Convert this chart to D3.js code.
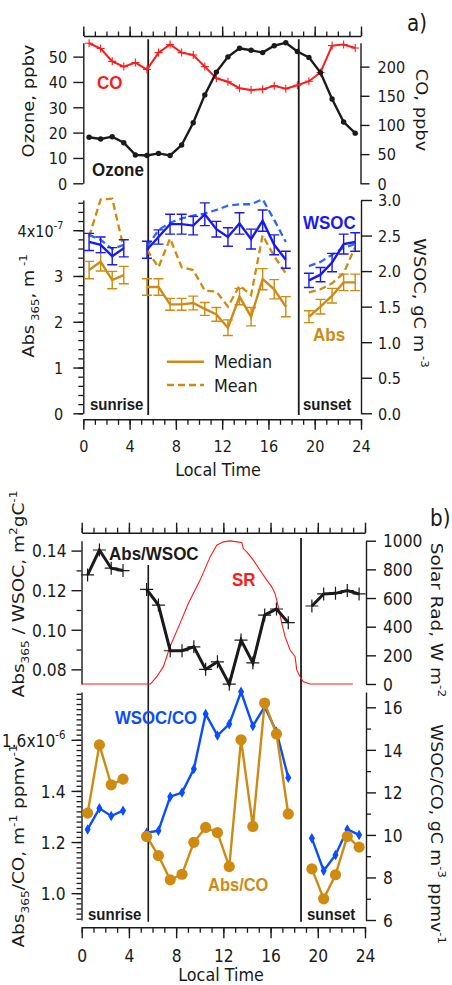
<!DOCTYPE html>
<html>
<head>
<meta charset="utf-8">
<script src="https://cdn.jsdelivr.net/npm/d3@7/dist/d3.min.js"></script>
<style>
body { margin:0; background:#fff; }
svg { display:block; }
</style>
</head>
<body>
<svg id="chart" width="452" height="985"></svg>
<script>
// ---------------- data ----------------
const hours = [0.5,1.5,2.5,3.5,4.5,5.5,6.5,7.5,8.5,9.5,10.5,11.5,12.5,13.5,14.5,15.5,16.5,17.5,18.5,19.5,20.5,21.5,22.5,23.5];
const ozone = [18.2,17.5,18.4,16.0,11.2,11.0,11.8,11.0,15.1,23.9,34.9,43.9,49.9,53.3,52.5,51.6,54.3,55.5,52.0,49.7,43.7,33.3,24.2,19.8];
const co = [240,231,209,200,207,195,224,238,224,220,200,180,174,163,160,161,167,162,168,175,190,236,238,232];

const absMedian = [3.13,3.31,2.91,3.02,null,2.76,2.76,2.38,2.38,2.41,2.28,2.16,1.87,2.55,2.11,2.93,2.71,2.33,null,2.11,2.33,2.57,2.86,2.86];
const absErr    = [0.19,0.20,0.19,0.19,null,0.18,0.18,0.13,0.13,0.15,0.14,0.15,0.17,0.18,0.20,0.23,0.21,0.22,null,0.13,0.16,0.16,0.18,0.18];
const absMean   = [3.86,4.67,4.69,3.60,null,3.57,3.19,3.82,3.19,3.13,2.68,2.66,2.33,2.79,2.58,3.89,3.43,3.06,null,2.64,2.71,2.84,3.06,3.64];
const wsocMedian = [2.41,2.37,2.21,2.32,null,2.30,2.48,2.66,2.66,2.64,2.80,2.59,2.48,2.67,2.45,2.71,2.37,2.16,null,1.87,1.95,2.12,2.38,2.41];
const wsocErr    = [0.12,0.11,0.12,0.12,null,0.12,0.10,0.14,0.14,0.13,0.16,0.11,0.13,0.15,0.14,0.15,0.14,0.12,null,0.10,0.10,0.13,0.14,0.13];
const wsocMean   = [2.51,2.44,2.31,2.37,null,2.34,2.58,2.68,2.74,2.78,2.81,2.86,2.92,2.94,2.94,3.01,2.72,2.41,null,2.07,2.13,2.23,2.33,2.38];

const absWsoc = [0.1277,0.1403,0.1311,0.1299,null,0.1204,0.1125,0.0894,0.0894,0.0914,0.0800,0.0838,0.0725,0.0948,0.0833,0.1074,0.1105,0.1036,null,0.1120,0.1181,0.1184,0.1198,0.1181];
const srHours  = [0,5.8,5.93,6.36,6.92,7.48,8.33,9.03,10.03,10.88,11.44,12.0,12.57,13.14,13.56,13.69,13.98,14.54,15.11,15.68,16.1,16.38,16.66,16.95,17.23,17.65,18.08,18.22,18.5,18.78,19.35,22.97];
const srValues = [0,0,9,51,121,260,423,562,725,887,969,992,999,992,987,945,922,864,794,725,678,632,539,423,330,237,190,98,51,16,0,0];

const wsocCo = [10.26,11.25,10.89,11.14,null,10.10,10.20,11.80,11.99,13.10,15.69,14.67,15.21,16.73,15.12,16.03,14.85,12.69,null,9.84,8.32,9.06,10.26,10.00];
const absCo  = [1.313,1.580,1.424,1.446,null,1.222,1.147,1.052,1.074,1.199,1.257,1.237,1.104,1.600,1.261,1.744,1.623,1.310,null,1.095,0.978,1.072,1.222,1.180];

const xTicks = [0,4,8,12,16,20,24];
const sunA = [5.61, 18.62];
const sunB = [5.64, 18.58];

// ---------------- style ----------------
const FONT = "'DejaVu Sans', Verdana, sans-serif";
const BOLD = "'Liberation Sans', Arial, sans-serif";
const INK = "#1a1a1a";
const RED = "#ff1a1a";
const BLUE = "#1a1aee";
const BLUE2 = "#2a66ff";
const BLUEB = "#0a4cff";
const GOLD = "#cf8a12";
const S = 1.12; // vertical text stretch of the original figure

const svg = d3.select("#chart");

function rich(x, y, parts, o) {
  const tr = `translate(${x},${y}) scale(1,${S})` + (o.rotate ? ` rotate(${o.rotate})` : "");
  const t = svg.append("text").attr("transform", tr)
    .attr("font-family", o.family || FONT).attr("font-size", o.size)
    .attr("font-weight", o.weight || "normal").attr("fill", o.fill || INK)
    .attr("text-anchor", o.anchor || "start");
  if (typeof parts === "string") parts = [[parts, "n"]];
  let shift = 0;
  parts.forEach(([s, k]) => {
    const target = k === "sub" ? o.size * 0.3 : k === "sup" ? -o.size * 0.45 : 0;
    const ts = t.append("tspan").attr("dy", target - shift).text(s);
    if (k !== "n") ts.attr("font-size", o.size * 0.66);
    shift = target;
  });
  return t;
}

function styleAxis(g, fs) {
  g.attr("font-family", FONT).attr("font-size", fs).attr("fill", null);
  g.selectAll("path.domain").attr("stroke", INK).attr("stroke-width", 1.4);
  g.selectAll(".tick line").attr("stroke", INK).attr("stroke-width", 1.4);
  g.selectAll(".tick text").attr("fill", INK);
  return g;
}
function vAxis(gen, x, fs) {
  const g = svg.append("g").attr("transform", `translate(${x},0)`).call(gen);
  styleAxis(g, fs);
  g.selectAll(".tick text").attr("y", 0).attr("dy", "0.36em").attr("transform", `scale(1,${S})`);
  return g;
}
function hAxis(gen, y, fs, base) {
  const g = svg.append("g").attr("transform", `translate(0,${y})`).call(gen);
  styleAxis(g, fs);
  g.selectAll(".tick text").attr("y", base / S).attr("dy", 0).attr("transform", `scale(1,${S})`);
  return g;
}
function minor(gen, pos, horizontal) {
  const g = svg.append("g").attr("transform", horizontal ? `translate(0,${pos})` : `translate(${pos},0)`).call(gen);
  g.select("path.domain").remove();
  g.selectAll(".tick line").attr("stroke", INK).attr("stroke-width", 1.3);
  g.selectAll(".tick text").remove();
  return g;
}
function supLabel(g, value, main, sup, fs) {
  g.selectAll(".tick text").filter(d => Math.abs(d - value) < 1e-9).each(function () {
    const t = d3.select(this).text(main);
    t.append("tspan").attr("dy", -fs * 0.45).attr("font-size", fs * 0.66).text(sup);
  });
}
function pts(vals) { return hours.map((h, i) => ({ h, v: vals[i], i })).filter(d => d.v != null); }
function lineOf(x, y, vals) {
  return d3.line().defined(d => d.v != null).x(d => x(d.h)).y(d => y(d.v))(hours.map((h, i) => ({ h, v: vals[i] })));
}
const plus = s => `M${-s},0H${s}M0,${-s}V${s}`;
const fmtInt = d3.format("d");

// ================= PANEL A =================
const xA = d3.scaleLinear().domain([0, 24]).range([83.3, 361]);
const yOz = d3.scaleLinear().domain([0, 55.5]).range([183.3, 42.7]);
const yCO = d3.scaleLinear().domain([0, 241]).range([183.3, 42.7]);
const yAbs = d3.scaleLinear().domain([0, 4.66]).range([413.3, 200]);
const yWS = d3.scaleLinear().domain([0, 3]).range([413.3, 200]);

// top tick axis
hAxis(d3.axisTop(xA).tickValues(xTicks).tickSize(9.5).tickSizeOuter(0).tickFormat(""), 36, 14, 0);
minor(d3.axisTop(xA).tickValues(d3.range(0, 25, 1)).tickSize(4.5), 36, true);
// upper left / right
vAxis(d3.axisLeft(yOz).tickValues([0, 10, 20, 30, 40, 50]).tickFormat(fmtInt).tickSize(10).tickPadding(6).tickSizeOuter(0), 83.3, 14.5);
vAxis(d3.axisRight(yCO).tickValues([0, 50, 100, 150, 200]).tickFormat(fmtInt).tickSize(9).tickPadding(8).tickSizeOuter(0), 360.5, 14.5);
// lower left / right
const gAbs = vAxis(d3.axisLeft(yAbs).tickValues([0, 1, 2, 3, 4]).tickFormat(fmtInt).tickSize(10).tickPadding(10).tickSizeOuter(0), 83.3, 14.5);
supLabel(gAbs, 4, "4x10", "-7", 14.5);
minor(d3.axisLeft(yAbs).tickValues(d3.range(0, 4.65, 0.2)).tickSize(5), 83.3, false);
vAxis(d3.axisRight(yWS).tickValues([0, 0.5, 1, 1.5, 2, 2.5, 3]).tickFormat(d3.format(".1f")).tickSize(11).tickPadding(6).tickSizeOuter(0), 361, 14.5);
// bottom axis
hAxis(d3.axisBottom(xA).tickValues(xTicks).tickFormat(fmtInt).tickSize(10.5).tickSizeOuter(0), 419.3, 14.5, 33);
minor(d3.axisBottom(xA).tickValues(d3.range(0, 25, 1)).tickSize(5.5), 419.3, true);

// sunrise / sunset lines
sunA.forEach(h => svg.append("line").attr("x1", xA(h)).attr("x2", xA(h)).attr("y1", 39.3).attr("y2", 415)
  .attr("stroke", INK).attr("stroke-width", 1.8));

// CO
svg.append("path").attr("d", lineOf(xA, yCO, co)).attr("fill", "none").attr("stroke", RED).attr("stroke-width", 2);
svg.append("g").selectAll("path").data(pts(co)).join("path")
  .attr("transform", d => `translate(${xA(d.h)},${yCO(d.v)})`).attr("d", plus(4))
  .attr("stroke", RED).attr("stroke-width", 1.1);
// Ozone
svg.append("path").attr("d", lineOf(xA, yOz, ozone)).attr("fill", "none").attr("stroke", INK).attr("stroke-width", 2.4);
svg.append("g").selectAll("circle").data(pts(ozone)).join("circle")
  .attr("cx", d => xA(d.h)).attr("cy", d => yOz(d.v)).attr("r", 2.7).attr("fill", INK);

// Abs mean/median + error bars
svg.append("path").attr("d", lineOf(xA, yAbs, absMean)).attr("fill", "none").attr("stroke", GOLD)
  .attr("stroke-width", 2.3).attr("stroke-dasharray", "7,4");
svg.append("path").attr("d", lineOf(xA, yAbs, absMedian)).attr("fill", "none").attr("stroke", GOLD).attr("stroke-width", 2.4);
function errBars(x, y, vals, errs, color) {
  const g = svg.append("g").attr("stroke", color).attr("stroke-width", 1.4).attr("fill", "none");
  pts(vals).forEach(d => {
    const e = errs[d.i], cx = x(d.h), y0 = y(d.v - e), y1 = y(d.v + e);
    g.append("path").attr("d", `M${cx},${y0}V${y1}M${cx - 5},${y0}H${cx + 5}M${cx - 5},${y1}H${cx + 5}`);
  });
}
errBars(xA, yAbs, absMedian, absErr, GOLD);
// WSOC
svg.append("path").attr("d", lineOf(xA, yWS, wsocMean)).attr("fill", "none").attr("stroke", BLUE2)
  .attr("stroke-width", 2.3).attr("stroke-dasharray", "7,4");
svg.append("path").attr("d", lineOf(xA, yWS, wsocMedian)).attr("fill", "none").attr("stroke", BLUE).attr("stroke-width", 2.4);
errBars(xA, yWS, wsocMedian, wsocErr, BLUE);

// legend
svg.append("line").attr("x1", 167).attr("x2", 204).attr("y1", 361.7).attr("y2", 361.7).attr("stroke", GOLD).attr("stroke-width", 2.4);
svg.append("line").attr("x1", 167).attr("x2", 204).attr("y1", 385).attr("y2", 385).attr("stroke", GOLD).attr("stroke-width", 2.3).attr("stroke-dasharray", "7,4");
rich(214, 368, "Median", { size: 16 });
rich(214, 391.5, "Mean", { size: 16 });

// panel A text
rich(97, 89, "CO", { size: 17, family: BOLD, weight: "bold", fill: RED });
rich(92, 176, "Ozone", { size: 17, family: BOLD, weight: "bold" });
rich(303, 229, "WSOC", { size: 17, family: BOLD, weight: "bold", fill: BLUE });
rich(313, 341, "Abs", { size: 17, family: BOLD, weight: "bold", fill: GOLD });
rich(90, 410, "sunrise", { size: 15, family: BOLD, weight: "bold" });
rich(303, 410, "sunset", { size: 15, family: BOLD, weight: "bold" });
rich(407, 31, "a)", { size: 20 });
rich(218, 475.5, "Local  Time", { size: 16, anchor: "middle" });
rich(34, 101, "Ozone, ppbv", { size: 16, rotate: -90, anchor: "middle" });
rich(34, 306, [["Abs", "n"], [" 365", "sub"], [", m", "n"], [" -1", "sup"]], { size: 16, rotate: -90, anchor: "middle" });
rich(416, 110, "CO, ppbv", { size: 16, rotate: 90, anchor: "middle" });
rich(414, 303, [["WSOC,  gC m", "n"], [" -3", "sup"]], { size: 16, rotate: 90, anchor: "middle" });

// ================= PANEL B =================
const xB = d3.scaleLinear().domain([0, 24]).range([81.7, 365]);
const yAW = d3.scaleLinear().domain([0.0726, 0.145]).range([684, 540.7]);
const ySR = d3.scaleLinear().domain([0, 1000]).range([684, 540.7]);
const yAC = d3.scaleLinear().domain([0.895, 1.787]).range([920, 692]);
const yWC = d3.scaleLinear().domain([6, 16.72]).range([920, 692]);

hAxis(d3.axisTop(xB).tickValues(xTicks).tickSize(10).tickSizeOuter(0).tickFormat(""), 532.7, 15, 0);
minor(d3.axisTop(xB).tickValues(d3.range(0, 25, 1)).tickSize(5), 532.7, true);
vAxis(d3.axisLeft(yAW).tickValues([0.08, 0.10, 0.12, 0.14]).tickFormat(d3.format(".2f")).tickSize(10).tickPadding(5).tickSizeOuter(0), 81.5, 15.5);
minor(d3.axisLeft(yAW).tickValues([0.09, 0.11, 0.13]).tickSize(5), 81.5, false);
vAxis(d3.axisRight(ySR).tickValues([0, 200, 400, 600, 800, 1000]).tickFormat(fmtInt).tickSize(10).tickPadding(7).tickSizeOuter(0), 366, 15.5);
const gAC = vAxis(d3.axisLeft(yAC).tickValues([1.0, 1.2, 1.4, 1.6]).tickFormat(d3.format(".1f")).tickSize(10).tickPadding(6).tickSizeOuter(0), 81.5, 15.5);
supLabel(gAC, 1.6, "1.6x10", "-6", 15.5);
minor(d3.axisLeft(yAC).tickValues(d3.range(0.9, 1.781, 0.02)).tickSize(5), 81.5, false);
vAxis(d3.axisRight(yWC).tickValues([6, 8, 10, 12, 14, 16]).tickFormat(fmtInt).tickSize(10).tickPadding(7).tickSizeOuter(0), 366, 15.5);
minor(d3.axisRight(yWC).tickValues([7, 9, 11, 13, 15]).tickSize(5), 366, false);
hAxis(d3.axisBottom(xB).tickValues(xTicks).tickFormat(fmtInt).tickSize(11).tickSizeOuter(0), 927.3, 15.5, 34.5);
minor(d3.axisBottom(xB).tickValues(d3.range(0, 25, 1)).tickSize(5.5), 927.3, true);

svg.append("line").attr("x1", xB(sunB[0])).attr("x2", xB(sunB[0])).attr("y1", 565).attr("y2", 921.7).attr("stroke", INK).attr("stroke-width", 1.6);
svg.append("line").attr("x1", xB(sunB[1])).attr("x2", xB(sunB[1])).attr("y1", 538).attr("y2", 921.7).attr("stroke", INK).attr("stroke-width", 1.8);

// Solar radiation
svg.append("path").attr("d", d3.line().x((h) => xB(h)).y((h, i) => ySR(srValues[i]))(srHours))
  .attr("fill", "none").attr("stroke", RED).attr("stroke-width", 1.1);
// Abs/WSOC
svg.append("path").attr("d", lineOf(xB, yAW, absWsoc)).attr("fill", "none").attr("stroke", INK).attr("stroke-width", 3);
svg.append("g").selectAll("path").data(pts(absWsoc)).join("path")
  .attr("transform", d => `translate(${xB(d.h)},${yAW(d.v)})`).attr("d", plus(6.5))
  .attr("stroke", INK).attr("stroke-width", 1.2);

// WSOC/CO
svg.append("path").attr("d", lineOf(xB, yWC, wsocCo)).attr("fill", "none").attr("stroke", BLUEB).attr("stroke-width", 2.4);
svg.append("g").selectAll("path").data(pts(wsocCo)).join("path")
  .attr("transform", d => `translate(${xB(d.h)},${yWC(d.v)})`).attr("d", d3.symbol(d3.symbolDiamond, 32))
  .attr("fill", BLUEB);
// Abs/CO
svg.append("path").attr("d", lineOf(xB, yAC, absCo)).attr("fill", "none").attr("stroke", GOLD).attr("stroke-width", 2.4);
svg.append("g").selectAll("circle").data(pts(absCo)).join("circle")
  .attr("cx", d => xB(d.h)).attr("cy", d => yAC(d.v)).attr("r", 5.6).attr("fill", GOLD);

// panel B text
rich(109, 559.5, "Abs/WSOC", { size: 17, family: BOLD, weight: "bold" });
rich(232, 585.5, "SR", { size: 17, family: BOLD, weight: "bold", fill: RED });
rich(115, 723.5, "WSOC/CO", { size: 16.8, family: BOLD, weight: "bold", fill: BLUEB });
rich(208, 891, "Abs/CO", { size: 16.5, family: BOLD, weight: "bold", fill: GOLD });
rich(88, 919.5, "sunrise", { size: 15, family: BOLD, weight: "bold" });
rich(307, 919.5, "sunset", { size: 15, family: BOLD, weight: "bold" });
rich(430, 526, "b)", { size: 20 });
rich(221, 981, "Local  Time", { size: 16, anchor: "middle" });
rich(24, 594, [["Abs", "n"], ["365", "sub"], [" / WSOC,  m", "n"], ["2", "sup"], ["gC", "n"], ["-1", "sup"]], { size: 16.5, rotate: -90, anchor: "middle" });
rich(24, 846, [["Abs", "n"], ["365", "sub"], ["/CO, m", "n"], ["-1", "sup"], [" ppmv", "n"], ["-1", "sup"]], { size: 16.5, rotate: -90, anchor: "middle" });
rich(431, 620, [["Solar Rad, W m", "n"], ["-2", "sup"]], { size: 16.5, rotate: 90, anchor: "middle" });
rich(431, 834, [["WSOC/CO,  gC m", "n"], ["-3", "sup"], [" ppmv", "n"], ["-1", "sup"]], { size: 15.5, rotate: 90, anchor: "middle" });
</script>
</body>
</html>
